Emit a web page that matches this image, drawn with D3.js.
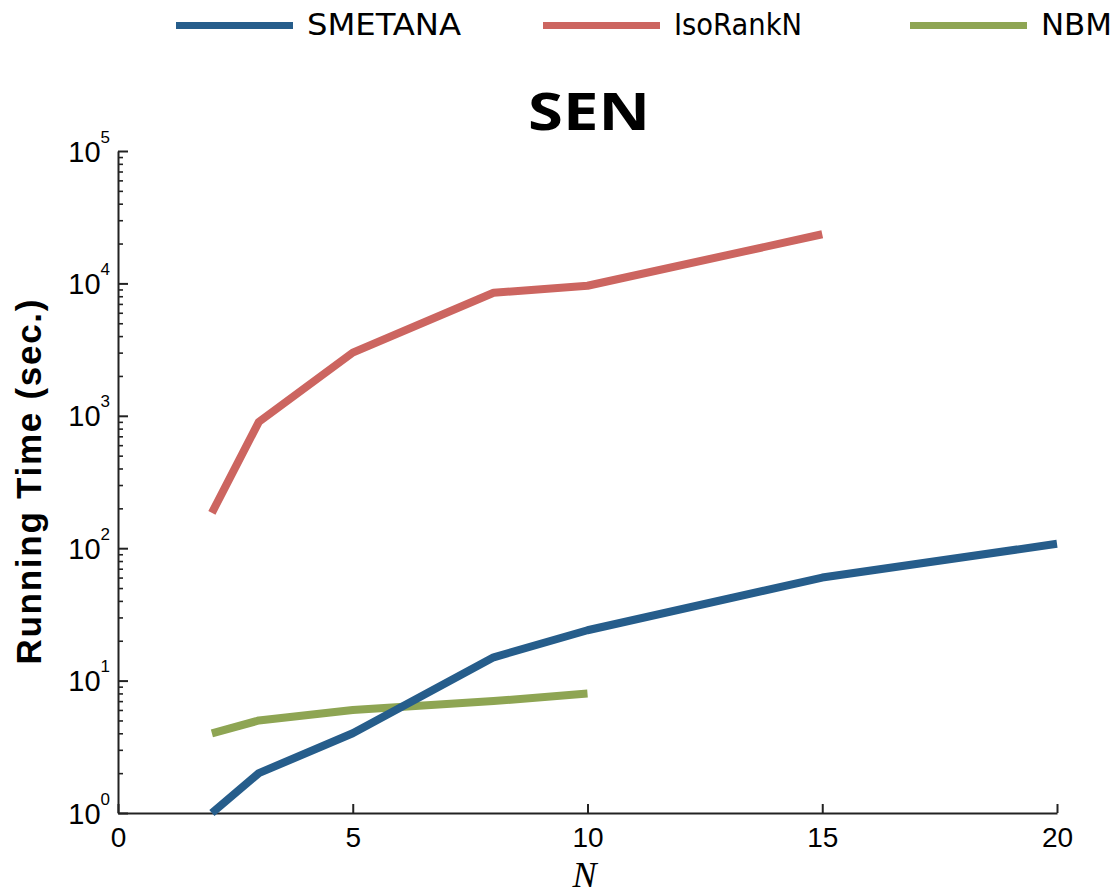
<!DOCTYPE html>
<html>
<head>
<meta charset="utf-8">
<script src="https://cdn.jsdelivr.net/npm/d3@7"></script>
<style>
  body { margin: 0; background: #fff; }
</style>
</head>
<body>
<script>
// running time (sec.) against N
var smetanaN = [2, 3, 5, 8, 10, 15, 20];
var smetanaTime = [1.0, 2.0, 4.0, 15, 24, 60, 108];

var isoRankN = [2, 3, 5, 8, 10, 15];
var isoRankTime = [185, 900, 3000, 8500, 9600, 23500];

var nbmN = [2, 3, 5, 8, 10];
var nbmTime = [4.0, 5.0, 6.0, 7.0, 8.0];

var seriesNames = ['SMETANA', 'IsoRankN', 'NBM'];
var seriesColors = ['#265d8b', '#cc6560', '#8ea553'];

var xTicks = [0, 5, 10, 15, 20];
var yMajor = [1, 10, 100, 1000, 10000, 100000];

var W = 1118, H = 895;
var margin = {top: 151, right: 61, bottom: 82, left: 118},
  width = W - margin.left - margin.right,
  height = H - margin.top - margin.bottom;

var svg = d3.select('body').append('svg')
  .attr('width', W)
  .attr('height', H);

var g = svg.append('g')
  .attr('transform', 'translate(' + margin.left + ',' + margin.top + ')');

var x = d3.scaleLinear().domain([0, 20]).range([0, width]);
var y = d3.scaleLog().domain([1, 100000]).range([height, 0]);

// minor ticks 2..9 of each decade
var yMinor = [];
yMajor.slice(0, -1).forEach(function(d) {
  for (var k = 2; k <= 9; k++) yMinor.push(d * k);
});

var axisColor = '#222';

g.append('g')
  .attr('class', 'yminor')
  .call(d3.axisLeft(y).tickValues(yMinor).tickSize(-5).tickSizeOuter(0).tickFormat(''))
  .call(function(s) {
    s.select('.domain').remove();
    s.selectAll('line').attr('stroke', axisColor).attr('stroke-width', 1.6);
  });

var yAxis = g.append('g')
  .attr('class', 'yaxis')
  .call(d3.axisLeft(y).tickValues(yMajor).tickSize(-10).tickSizeOuter(0).tickFormat(''));

yAxis.select('.domain').attr('stroke', axisColor).attr('stroke-width', 2);
yAxis.selectAll('line').attr('stroke', axisColor).attr('stroke-width', 2);

yAxis.selectAll('.tick').append('text')
  .attr('x', -8)
  .attr('y', 10)
  .attr('fill', '#000')
  .attr('text-anchor', 'end')
  .attr('font-family', 'Liberation Sans, Arial, sans-serif')
  .attr('font-size', 29)
  .each(function(d) {
    var t = d3.select(this);
    t.append('tspan').text('10');
    t.append('tspan')
      .attr('dy', -19)
      .attr('font-size', 17)
      .text(Math.round(Math.log10(d)));
  });

var xAxis = g.append('g')
  .attr('class', 'xaxis')
  .attr('transform', 'translate(0,' + height + ')')
  .call(d3.axisBottom(x).tickValues(xTicks).tickSize(-9).tickSizeOuter(0).tickPadding(14));

xAxis.select('.domain').attr('stroke', axisColor).attr('stroke-width', 2);
xAxis.selectAll('line').attr('stroke', axisColor).attr('stroke-width', 2);
xAxis.selectAll('text')
  .attr('fill', '#000')
  .attr('font-family', 'Liberation Sans, Arial, sans-serif')
  .attr('font-size', 28);

// lines
var series = [
  {name: seriesNames[0], xs: smetanaN, ys: smetanaTime, color: seriesColors[0]},
  {name: seriesNames[1], xs: isoRankN, ys: isoRankTime, color: seriesColors[1]},
  {name: seriesNames[2], xs: nbmN, ys: nbmTime, color: seriesColors[2]}
];

var line = d3.line()
  .x(function(d) { return x(d[0]); })
  .y(function(d) { return y(d[1]); });

g.selectAll('.series')
  .data(series.slice().reverse())
  .enter().append('path')
  .attr('class', 'series')
  .attr('fill', 'none')
  .attr('stroke', function(d) { return d.color; })
  .attr('stroke-width', 8)
  .attr('stroke-linejoin', 'round')
  .attr('d', function(d) { return line(d3.zip(d.xs, d.ys)); });

// title
svg.append('text')
  .text('SEN')
  .attr('x', 589)
  .attr('y', 130)
  .attr('text-anchor', 'middle')
  .attr('font-family', 'Open Sans, Noto Sans, sans-serif')
  .attr('font-weight', 'bold')
  .attr('font-size', 52)
  .attr('textLength', 122)
  .attr('lengthAdjust', 'spacingAndGlyphs');

// y label
svg.append('text')
  .text('Running Time (sec.)')
  .attr('transform', 'translate(41,482) rotate(-90)')
  .attr('text-anchor', 'middle')
  .attr('font-family', 'Liberation Sans, Arial, sans-serif')
  .attr('font-weight', 'bold')
  .attr('font-size', 35)
  .attr('textLength', 365)
  .attr('lengthAdjust', 'spacing');

// x label
svg.append('text')
  .text('N')
  .attr('x', margin.left + x(10) - 3)
  .attr('y', 887)
  .attr('text-anchor', 'middle')
  .attr('font-family', 'Liberation Serif, Times New Roman, serif')
  .attr('font-style', 'italic')
  .attr('font-size', 36);

// legend (the original font is narrow, so widths are pinned)
var legendWidths = [154, 128, 71];

var legend = svg.selectAll('.legend')
  .data(series)
  .enter().append('g')
  .attr('class', 'legend')
  .attr('transform', function(d, i) { return 'translate(' + (176 + i * 367) + ',0)'; });

legend.append('line')
  .attr('x1', 0).attr('x2', 117)
  .attr('y1', 25.5).attr('y2', 25.5)
  .attr('stroke', function(d) { return d.color; })
  .attr('stroke-width', 7);

legend.append('text')
  .text(function(d) { return d.name; })
  .attr('x', 131)
  .attr('y', 35)
  .attr('font-family', 'DejaVu Sans Condensed, DejaVu Sans, sans-serif')
  .attr('font-size', 30)
  .attr('textLength', function(d, i) { return legendWidths[i]; })
  .attr('lengthAdjust', 'spacingAndGlyphs');
</script>
</body>
</html>
